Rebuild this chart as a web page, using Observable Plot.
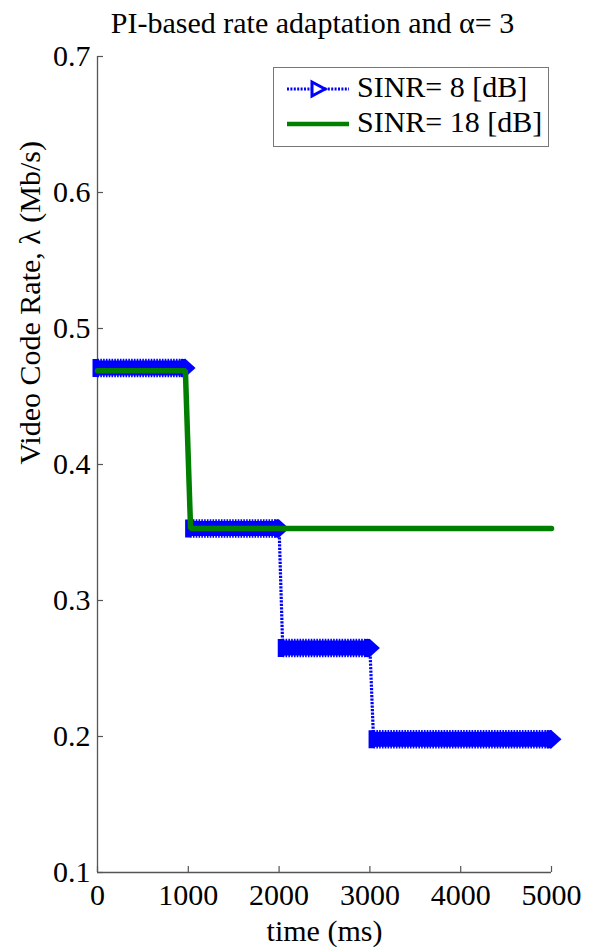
<!DOCTYPE html>
<html><head><meta charset="utf-8">
<script src="https://cdn.jsdelivr.net/npm/d3@7"></script>
<script src="https://cdn.jsdelivr.net/npm/@observablehq/plot@0.6"></script>
<style>
body{margin:0;background:#fff;}
#wrap{position:relative;width:591px;height:950px;font-family:"Liberation Serif","Times New Roman",serif;}
#legend{position:absolute;left:273px;top:67px;width:276px;height:80px;border:1.3px solid #777;background:#fff;box-sizing:border-box;}
.row{position:absolute;left:0;height:30px;width:100%;}
.row svg{position:absolute;left:13px;top:5px;}
.row span{position:absolute;left:83px;top:-2px;font-size:30px;line-height:30px;white-space:nowrap;color:#000;}
</style></head>
<body><div id="wrap"></div>
<script>
const title = "PI-based rate adaptation and α= 3";
const xLabel = "time (ms)";
const yLabel = "Video Code Rate, λ (Mb/s)";
const seriesNames = ["SINR= 8 [dB]", "SINR= 18 [dB]"];
// SINR = 8 dB : step break points (ms, Mb/s)
const time8 = [0, 970, 1020, 2000, 2040, 3000, 3040, 5000];
const rate8 = [0.471, 0.471, 0.353, 0.353, 0.265, 0.265, 0.198, 0.198];
// SINR = 18 dB
const time18 = [0, 968, 1025, 5000];
const rate18 = [0.469, 0.469, 0.353, 0.353];
const xTicks = [0, 1000, 2000, 3000, 4000, 5000];
const yTicks = [0.1, 0.2, 0.3, 0.4, 0.5, 0.6, 0.7];

const blue = "#0000ff", green = "#007f00", axisColor = "#555";
const pts8 = time8.map((t, i) => ({t, r: rate8[i], seg: Math.floor(i / 2)}));
const pts18 = time18.map((t, i) => ({t, r: rate18[i]}));

const W = 591, H = 950, mL = 97, mR = 40, mT = 56, mB = 78;
const fw = W - mL - mR, fh = H - mT - mB;
const FS = 30;

const marker = {draw(ctx) {
  ctx.moveTo(-5, -9); ctx.lineTo(0, -9); ctx.lineTo(10, 0); ctx.lineTo(0, 9); ctx.lineTo(-5, 9); ctx.closePath();
}};

const chart = Plot.plot({
  width: W, height: H,
  marginLeft: mL, marginRight: mR, marginTop: mT, marginBottom: mB,
  x: {domain: [0, 5000]},
  y: {domain: [0.1, 0.7]},
  style: {fontFamily: "'Liberation Serif','Times New Roman',serif", fontSize: FS + "px", color: "#000", background: "#fff", overflow: "visible"},
  marks: [
    Plot.axisX(xTicks, {tickSize: 0, tickPadding: 11, tickFormat: d => String(d), label: null, fontSize: FS}),
    Plot.axisY(yTicks, {tickSize: 0, tickPadding: 7, tickFormat: d => d.toFixed(1), label: null, fontSize: FS}),
    Plot.ruleY(yTicks, {stroke: axisColor, strokeWidth: 1.2, insetRight: fw - 6}),
    Plot.ruleX(xTicks, {stroke: axisColor, strokeWidth: 1.2, insetTop: fh - 6}),
    Plot.ruleX([0], {stroke: axisColor, strokeWidth: 1.3}),
    Plot.ruleY([0.1], {stroke: axisColor, strokeWidth: 1.3}),
    // SINR 8: dotted connecting line
    Plot.line(pts8, {x: "t", y: "r", stroke: blue, strokeWidth: 3.2, strokeDasharray: "2.2,1.3", strokeLinecap: "butt", curve: "linear"}),
    // dense marker band
    Plot.line(pts8, {x: "t", y: "r", z: "seg", stroke: blue, strokeWidth: 15, strokeLinecap: "butt"}),
    Plot.line(pts8, {x: "t", y: "r", z: "seg", stroke: blue, strokeWidth: 18.5, strokeDasharray: "1.6,1.2", strokeLinecap: "butt"}),
    Plot.dot(pts8, {x: "t", y: "r", symbol: marker, r: 5, fill: blue, stroke: "none"}),
    // SINR 18
    Plot.line(pts18, {x: "t", y: "r", stroke: green, strokeWidth: 5.5, strokeLinejoin: "miter"}),
    // titles
    Plot.text([title], {frameAnchor: "top", lineAnchor: "bottom", dy: -24, dx: -12, fontSize: FS, fill: "#000"}),
    Plot.text([xLabel], {frameAnchor: "bottom", lineAnchor: "bottom", dy: 68, fontSize: FS, fill: "#000"}),
    Plot.text([yLabel], {frameAnchor: "left", rotate: -90, dx: -67, fontSize: FS, fill: "#000"})
  ]
});
const wrap = document.getElementById("wrap");
wrap.appendChild(chart);

const legend = document.createElement("div");
legend.id = "legend";
legend.innerHTML = `
<div class="row" style="top:6px"><svg width="64" height="20">
  <line x1="0" y1="10" x2="62" y2="10" stroke="${blue}" stroke-width="3" stroke-dasharray="2,1.4"/>
  <polygon points="25,3 38,10 25,17" fill="#fff" stroke="${blue}" stroke-width="3"/>
</svg><span>${seriesNames[0]}</span></div>
<div class="row" style="top:41px"><svg width="64" height="20">
  <line x1="0" y1="10" x2="62" y2="10" stroke="${green}" stroke-width="4.5"/>
</svg><span>${seriesNames[1]}</span></div>`;
wrap.appendChild(legend);
</script>
</body></html>
